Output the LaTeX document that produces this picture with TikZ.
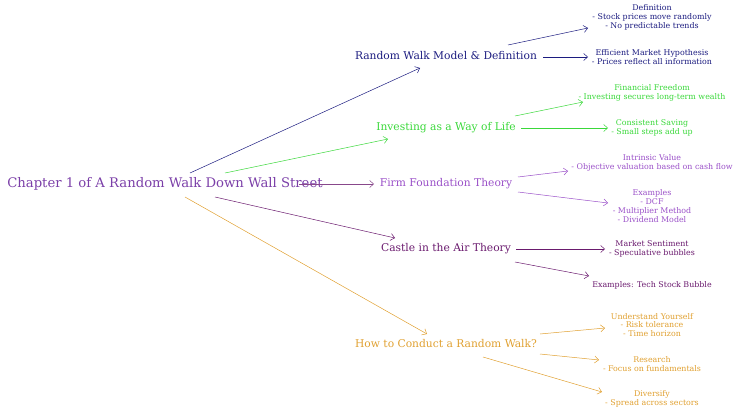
\documentclass[tikz,border=0pt]{standalone}
\usepackage{fontspec}
\setmainfont{DejaVu Serif}
\usetikzlibrary{arrows.meta}
\definecolor{cRoot}{HTML}{7B3FA8}
\definecolor{cA}{HTML}{1C1C80}
\definecolor{cB}{HTML}{3AD83A}
\definecolor{cC}{HTML}{9A50C8}
\definecolor{cD}{HTML}{6A1A6E}
\definecolor{cE}{HTML}{E0A030}
\begin{document}
\begin{tikzpicture}[x=1pt,y=-1pt,
  root/.style={font=\fontsize{13.2}{15}\selectfont,text=cRoot},
  br/.style={font=\fontsize{10.7}{12}\selectfont},
  lf/.style={font=\fontsize{7.9}{8.9}\selectfont,align=center,inner sep=0pt},
  con/.style={-{Straight Barb[length=4pt,width=7pt]},line width=0.5pt}]
\useasboundingbox (0,0) rectangle (740,415);
\node[root] (root) at (165,184) {Chapter 1 of A Random Walk Down Wall Street};
\node[br,text=cA] (a) at (446,56) {Random Walk Model \& Definition};
\node[br,text=cB] (b) at (446,128) {Investing as a Way of Life};
\node[br,text=cC] (c) at (446,184) {Firm Foundation Theory};
\node[br,text=cD] (d) at (446,249) {Castle in the Air Theory};
\node[br,text=cE] (e) at (446,344) {How to Conduct a Random Walk?};
\node[lf,text=cA] (a1) at (652,17) {Definition\\- Stock prices move randomly\\- No predictable trends};
\node[lf,text=cA] (a2) at (652,57) {Efficient Market Hypothesis\\- Prices reflect all information};
\node[lf,text=cB] (b1) at (652,93) {Financial Freedom\\- Investing secures long-term wealth};
\node[lf,text=cB] (b2) at (652,128) {Consistent Saving\\- Small steps add up};
\node[lf,text=cC] (c1) at (652,163) {Intrinsic Value\\- Objective valuation based on cash flow};
\node[lf,text=cC] (c2) at (652,206) {Examples\\- DCF\\- Multiplier Method\\- Dividend Model};
\node[lf,text=cD] (d1) at (652,249) {Market Sentiment\\- Speculative bubbles};
\node[lf,text=cD] (d2) at (652,285) {Examples: Tech Stock Bubble};
\node[lf,text=cE] (e1) at (652,325) {Understand Yourself\\- Risk tolerance\\- Time horizon};
\node[lf,text=cE] (e2) at (652,364) {Research\\- Focus on fundamentals};
\node[lf,text=cE] (e3) at (652,399) {Diversify\\- Spread across sectors};
% endpoints
\coordinate (ra) at (190,173); \coordinate (ta) at (420,68);
\coordinate (rb) at (225,173); \coordinate (tb) at (388,139);
\coordinate (rc) at (299,184); \coordinate (tc) at (374,184);
\coordinate (rd) at (215,197); \coordinate (td) at (395,238);
\coordinate (re) at (185,197); \coordinate (te) at (427,334);
\coordinate (sa1) at (508,45); \coordinate (ta1) at (588,28);
\coordinate (sa2) at (543,57); \coordinate (ta2) at (588,57);
\coordinate (sb1) at (515,116); \coordinate (tb1) at (583,102);
\coordinate (sb2) at (521,128); \coordinate (tb2) at (608,128);
\coordinate (sc1) at (518,177); \coordinate (tc1) at (568,171);
\coordinate (sc2) at (518,192); \coordinate (tc2) at (608,203);
\coordinate (sd1) at (516,249); \coordinate (td1) at (605,249);
\coordinate (sd2) at (515,262); \coordinate (td2) at (589,276);
\coordinate (se1) at (540,334); \coordinate (te1) at (605,328);
\coordinate (se2) at (540,354); \coordinate (te2) at (599,360);
\coordinate (se3) at (483,357); \coordinate (te3) at (602,392);
\draw[con,cA] (ra) -- (ta);
\draw[con,cB] (rb) -- (tb);
\draw[con,cD!80] (rc) -- (tc);
\draw[con,cD] (rd) -- (td);
\draw[con,cE] (re) -- (te);
\draw[con,cA] (sa1) -- (ta1);
\draw[con,cA] (sa2) -- (ta2);
\draw[con,cB] (sb1) -- (tb1);
\draw[con,cB] (sb2) -- (tb2);
\draw[con,cC] (sc1) -- (tc1);
\draw[con,cC] (sc2) -- (tc2);
\draw[con,cD] (sd1) -- (td1);
\draw[con,cD] (sd2) -- (td2);
\draw[con,cE] (se1) -- (te1);
\draw[con,cE] (se2) -- (te2);
\draw[con,cE] (se3) -- (te3);
\end{tikzpicture}
\end{document}
